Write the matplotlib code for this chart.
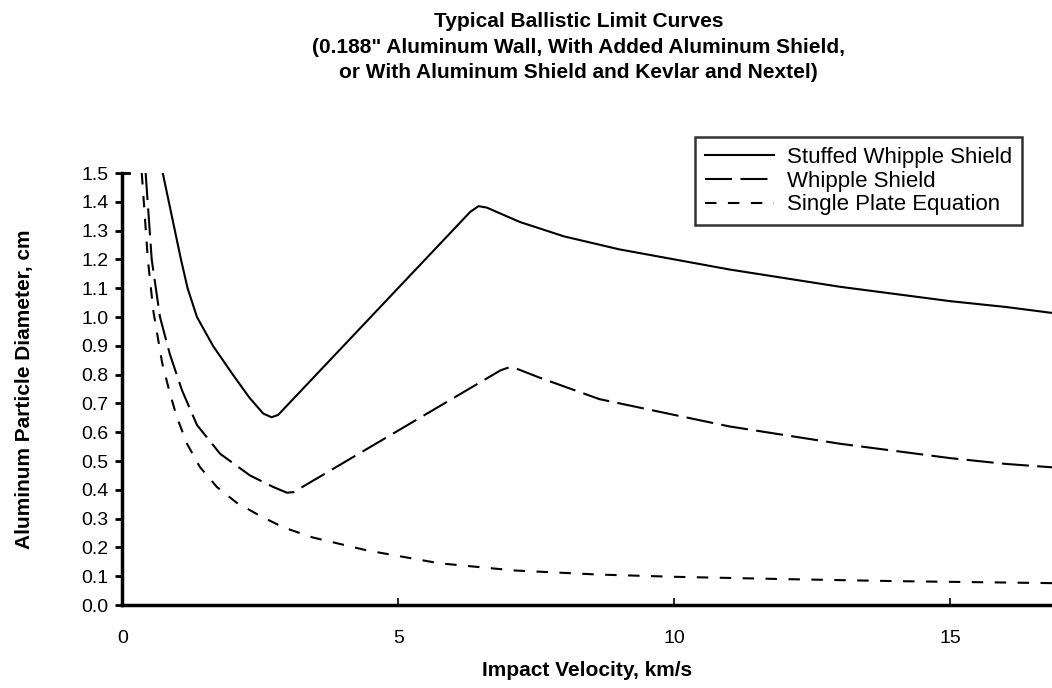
import matplotlib.pyplot as plt

# 字体: Helvetica 的替代
FONT = ['Liberation Sans', 'DejaVu Sans']
TITLE_FONT = ['Liberation Sans Narrow', 'Liberation Sans', 'DejaVu Sans']
plt.rcParams['font.family'] = FONT

title_lines = ["Typical Ballistic Limit Curves",
               "(0.188\" Aluminum Wall, With Added Aluminum Shield,",
               "or With Aluminum Shield and Kevlar and Nextel)"]
x_label = "Impact Velocity, km/s"
y_label = "Aluminum Particle Diameter, cm"
series_names = ["Stuffed Whipple Shield", "Whipple Shield", "Single Plate Equation"]

# 读图得到的曲线点 (km/s, cm)
stuffed_x = [0.73, 0.84, 0.95, 1.06, 1.18, 1.35, 1.64, 2.0, 2.3, 2.55, 2.7, 2.82,
             6.3, 6.45, 6.6, 7.2, 8.0, 9.0, 10, 11, 12, 13, 14, 15, 16, 16.85]
stuffed_y = [1.5, 1.4, 1.3, 1.2, 1.1, 1.0, 0.9, 0.8, 0.72, 0.665, 0.652, 0.66,
             1.365, 1.385, 1.38, 1.33, 1.28, 1.235, 1.2, 1.165, 1.135, 1.105, 1.08,
             1.055, 1.035, 1.014]

whipple_x = [0.42, 0.53, 0.68, 0.86, 1.08, 1.35, 1.77, 2.31, 2.73, 2.98, 3.1, 6.85,
             7.0, 7.15, 7.55, 8.64, 10, 11, 12, 13, 14, 15, 16, 16.85]
whipple_y = [1.5, 1.2, 1.0, 0.87, 0.745, 0.625, 0.525, 0.45, 0.41, 0.39, 0.392, 0.815,
             0.825, 0.82, 0.79, 0.715, 0.66, 0.62, 0.59, 0.56, 0.535, 0.51, 0.49, 0.478]

single_x = [0.35, 0.46, 0.56, 0.72, 0.86, 0.99, 1.17, 1.4, 1.71, 2.07, 2.49, 2.91,
            3.44, 4.42, 5.74, 7.1, 8.6, 10, 12, 14, 16.85]
single_y = [1.5, 1.2, 1.02, 0.84, 0.735, 0.65, 0.56, 0.48, 0.41, 0.355, 0.31, 0.27,
            0.235, 0.19, 0.145, 0.12, 0.106, 0.098, 0.09, 0.083, 0.076]

x_ticks = [0, 5, 10, 15]
y_ticks = [i / 10 for i in range(16)]

fig = plt.figure(figsize=(10.52, 6.88), dpi=100)
ax = fig.add_axes([0.1164, 0.1206, 0.8836, 0.6279])

lw = 1.5
ax.plot(stuffed_x, stuffed_y, color='black', lw=lw, label=series_names[0],
        solid_joinstyle='round')
ax.plot(whipple_x, whipple_y, color='black', lw=lw, label=series_names[1],
        linestyle=(0, (13, 4)))
ax.plot(single_x, single_y, color='black', lw=lw, label=series_names[2],
        linestyle=(0, (5.5, 5.5)))

ax.set_xlim(0, 16.84)
ax.set_ylim(0, 1.5)
ax.set_xticks(x_ticks)
ax.set_yticks(y_ticks)
ax.set_yticklabels([f"{v:.1f}" for v in y_ticks])

for s in ['top', 'right']:
    ax.spines[s].set_visible(False)
for s in ['left', 'bottom']:
    ax.spines[s].set_linewidth(2.5)

ax.tick_params(axis='x', direction='in', length=5, width=1.2, labelsize=14, pad=18)
ax.tick_params(axis='y', direction='out', length=5, width=2, labelsize=14, pad=5)

# 顶部的小横线 "["
ax.plot([0, 0.12], [1.5, 1.5], color='black', lw=2, clip_on=False)

ax.set_xlabel(x_label, fontsize=15, fontweight='bold', labelpad=10)
ax.set_ylabel(y_label, fontsize=15, fontweight='bold', labelpad=34)

fig.text(0.55, 1 - 12 / 688, "\n".join(title_lines), ha='center', va='top',
         fontsize=15, fontweight='bold', linespacing=1.45, family=TITLE_FONT)

leg = ax.legend(loc='upper right', bbox_to_anchor=(1022 / 1052, 1 - 137 / 688),
                bbox_transform=fig.transFigure, fontsize=16, handlelength=3.1,
                frameon=True, fancybox=False, borderaxespad=0, borderpad=0.45,
                labelspacing=0.12, handletextpad=0.6)
leg.get_frame().set_edgecolor('black')
leg.get_frame().set_linewidth(1.8)

fig.savefig("out.png", dpi=100)
